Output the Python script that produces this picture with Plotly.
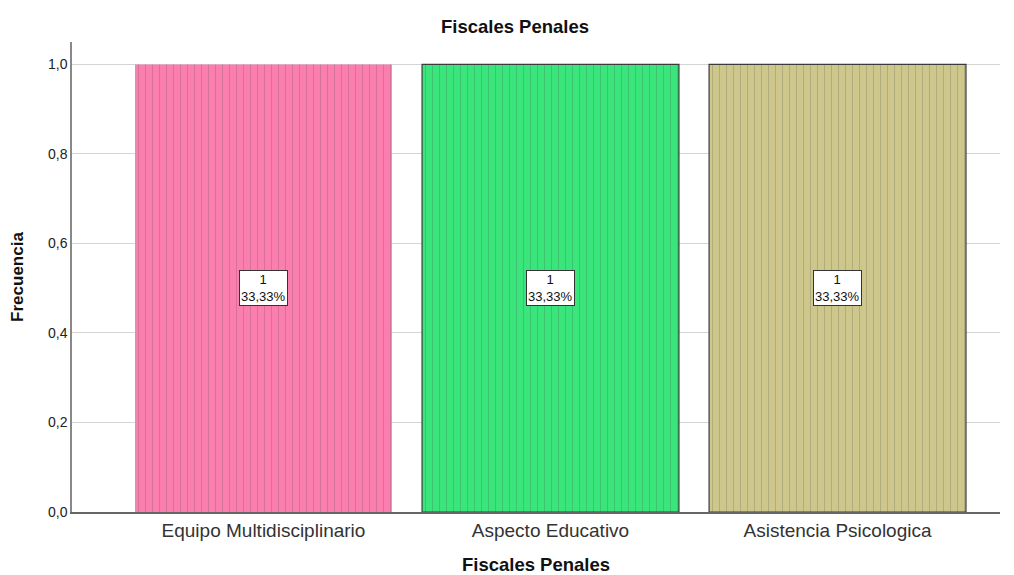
import plotly.graph_objects as go

categories = ["Equipo Multidisciplinario", "Aspecto Educativo", "Asistencia Psicologica"]
frequencies = [1, 1, 1]
percent_labels = ["33,33%", "33,33%", "33,33%"]
y_ticks = [0.0, 0.2, 0.4, 0.6, 0.8, 1.0]

colors = ["#FA7EAE", "#3AE67C", "#CEC78C"]
pattern_fg = ["#8A3A5A", "#1C6E3C", "#6A6240"]
line_colors = ["rgba(0,0,0,0)", "#3a3a3a", "#3a3a3a"]

FONT = "Liberation Sans, Arial, sans-serif"
xs = list(range(len(categories)))

fig = go.Figure()
fig.add_trace(go.Bar(
    x=xs, y=frequencies, width=0.895,
    marker=dict(
        color=colors,
        line=dict(color=line_colors, width=1.2),
        pattern=dict(shape="|", size=7, solidity=0.12, fgcolor=pattern_fg, fgopacity=0.25),
    ),
    hoverinfo="skip",
))

for i, (f, p) in enumerate(zip(frequencies, percent_labels)):
    fig.add_annotation(
        x=i, y=f / 2, text=f"{f}<br>{p}", showarrow=False,
        font=dict(family=FONT, size=13, color="#111"),
        bgcolor="white", bordercolor="#333", borderwidth=1, borderpad=1,
        align="center",
    )

fig.update_layout(
    width=1014, height=575,
    paper_bgcolor="white", plot_bgcolor="white",
    margin=dict(l=64, r=22, t=34, b=71, autoexpand=False),
    separators=",.",
    showlegend=False,
    title=dict(text="<b>Fiscales Penales</b>", x=0.5, xanchor="center", y=1 - 19 / 575, yanchor="middle",
               font=dict(family=FONT, size=18.5, color="#111")),
    font=dict(family=FONT),
)
fig.update_xaxes(
    range=[-0.667, 2.566], tickvals=xs, ticktext=categories,
    tickfont=dict(family=FONT, size=19, color="#333"),
    showgrid=False, showline=True, linecolor="#666", linewidth=1.5,
    ticks="", zeroline=False, automargin=False,
    title=dict(text="<b>Fiscales Penales</b>", font=dict(family=FONT, size=18.5, color="#111"), standoff=19),
)
fig.update_yaxes(
    range=[0, 1.05], tickvals=y_ticks, tickformat=".1f",
    tickfont=dict(family=FONT, size=14, color="#222"),
    showgrid=True, gridcolor="#D4D4D4", gridwidth=1,
    showline=True, linecolor="#888", linewidth=1.5,
    zeroline=False, ticks="", automargin=False,
    title=dict(text="<b>Frecuencia</b>", font=dict(family=FONT, size=17, color="#111"), standoff=20),
)

fig.write_html("out.html")
